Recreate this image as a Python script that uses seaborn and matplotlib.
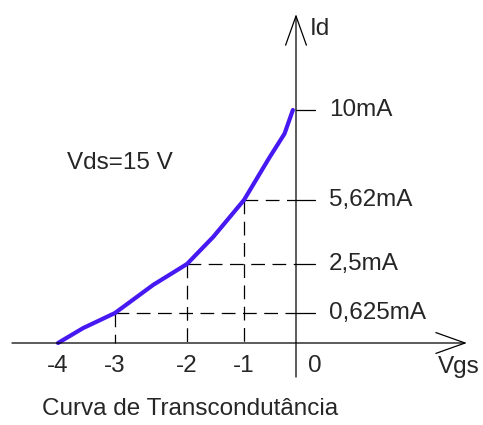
import numpy as np
import pandas as pd
import seaborn as sns
import matplotlib.pyplot as plt

# curva de transcondutancia
vgs = [-4, -3.56, -3, -2.47, -2, -1.54, -1, -0.78, -0.52, -0.22, -0.06]
id_ma = [0, 0.31, 0.625, 1.70, 2.5, 3.82, 5.62, 6.55, 7.65, 8.85, 10]

# pontos marcados
mark_vgs = [-3, -2, -1]
mark_id = [0.625, 2.5, 5.62]
y_ticks = [10, 5.62, 2.5, 0.625]
y_labels = ['10mA', '5,62mA', '2,5mA', '0,625mA']
x_ticks = [-4, -3, -2, -1, 0]
x_labels = ['-4', '-3', '-2', '-1', '0']

# escala desenhada a mao: valores -> posicao no desenho
x_knots = [-5.02, -4, -3, -2, -1, 0, 3.6]
x_pix = [0, 58, 115, 187, 244, 296, 483]
y_knots = [-1.71, 0, 0.625, 2.5, 5.62, 10, 15.36]
y_pix = [0, 82, 112, 161, 225, 315, 425]

sns.set_style("white")
plt.rcParams['font.family'] = ['Liberation Sans', 'DejaVu Sans']

fig = plt.figure(figsize=(4.83, 4.25), dpi=100)
ax = fig.add_axes([0, 0, 1, 1])
ax.set_xscale('function', functions=(lambda v: np.interp(v, x_knots, x_pix),
                                     lambda p: np.interp(p, x_pix, x_knots)))
ax.set_yscale('function', functions=(lambda v: np.interp(v, y_knots, y_pix),
                                     lambda p: np.interp(p, y_pix, y_knots)))
ax.set_xlim(x_knots[0], x_knots[-1])
ax.set_ylim(y_knots[0], y_knots[-1])
ax.axis('off')

fs = 17.5
lw = 0.9
dash = (0, (11, 6))

# eixos com setas
arrow = dict(arrowstyle='->,head_length=2.1,head_width=0.75', color='black',
             lw=lw, shrinkA=0, shrinkB=0, mutation_scale=10)
ax.annotate('', xy=(3.29, 0), xytext=(-4.81, 0), arrowprops=arrow)
ax.annotate('', xy=(0, 14.67), xytext=(0, -0.71), arrowprops=arrow)

# linhas tracejadas de referencia
for xv, yv in zip(mark_vgs, mark_id):
    ax.plot([xv, 0], [yv, yv], color='black', lw=lw, linestyle=dash)
    ax.plot([xv, xv], [yv, 0], color='black', lw=lw, linestyle=dash)

# marcas do eixo Id
for yv, lab in zip(y_ticks, y_labels):
    ax.plot([0, 0.365], [yv, yv], color='black', lw=lw)
    ax.text(0.64, yv, lab, fontsize=fs, va='center', ha='left')

for xv, lab in zip(x_ticks, x_labels):
    ax.text(xv + (0.36 if xv == 0 else 0), -0.47, lab, fontsize=fs,
            va='center', ha='center')

df = pd.DataFrame({'Vgs': vgs, 'Id': id_ma})
sns.lineplot(data=df, x='Vgs', y='Id', color='#4618f2', lw=3, ax=ax,
             sort=False, solid_capstyle='round', solid_joinstyle='round')

ax.text(0.27, 13.95, 'Id', fontsize=fs, va='center', ha='left')
ax.text(2.73, -0.5, 'Vgs', fontsize=fs, va='center', ha='left')
ax.text(-3.84, 7.42, 'Vds=15 V', fontsize=fs, va='center', ha='left')
ax.text(-4.28, -1.38, 'Curva de Transcondutância', fontsize=fs,
        va='center', ha='left')

fig.savefig('out.png', dpi=100)
